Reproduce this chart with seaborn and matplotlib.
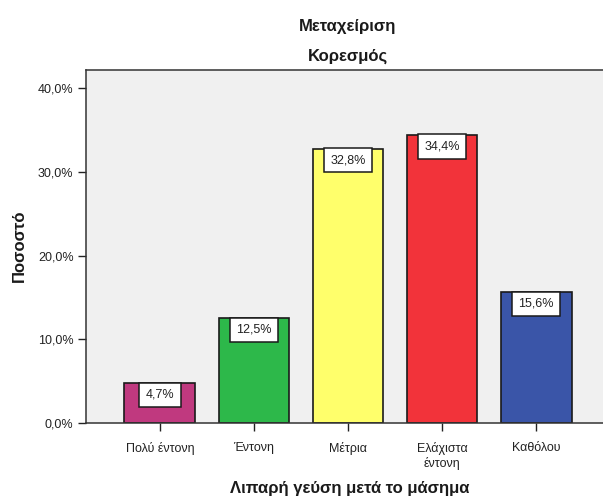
import matplotlib
matplotlib.use("Agg")
import matplotlib.pyplot as plt
import seaborn as sns
import pandas as pd

categories = ["Πολύ έντονη", "Έντονη", "Μέτρια", "Ελάχιστα\nέντονη", "Καθόλου"]
values = [4.7, 12.5, 32.8, 34.4, 15.6]
value_labels = ["4,7%", "12,5%", "32,8%", "34,4%", "15,6%"]
colors = ["#C0397F", "#2DB84A", "#FFFF6B", "#F2333A", "#3A55A8"]
yticks = [0, 10, 20, 30, 40]
ytick_labels = ["0,0%", "10,0%", "20,0%", "30,0%", "40,0%"]

sns.set_theme(style="white")
plt.rcParams["font.family"] = ["Liberation Sans", "DejaVu Sans"]

df = pd.DataFrame({"cat": categories, "val": values})

W, H = 603, 499
y0, y1 = 422.7, 70.0
fig = plt.figure(figsize=(W / 100, H / 100), dpi=100)
ax = fig.add_axes([86 / W, (H - y0) / H, 524 / W, (y0 - y1) / H])
ax.set_facecolor("#F0F0F0")

sns.barplot(data=df, x="cat", y="val", hue="cat", palette=colors, legend=False,
            edgecolor="#1a1a1a", linewidth=1.2, width=0.755, ax=ax, saturation=1)

ax.set_xlim(-0.787, 4.787)
ax.set_ylim(0, 42.2)
ax.set_yticks(yticks)
ax.set_yticklabels(ytick_labels, fontsize=9, color="#222222")
ax.tick_params(axis="x", labelsize=9, colors="#222222", length=6, width=1.0,
               direction="out", bottom=True, pad=8)
ax.tick_params(axis="y", length=6, width=1.0, direction="out", left=True, pad=3,
               colors="#222222")
ax.set_xlabel("")
ax.set_ylabel("")

for s in ["left", "top", "bottom"]:
    ax.spines[s].set_color("#333333")
    ax.spines[s].set_linewidth(1.1)
ax.spines["right"].set_visible(False)

pad = 0.5
fs = 9
for i, (v, lab) in enumerate(zip(values, value_labels)):
    ax.annotate(lab, xy=(i, v), xytext=(0, -pad * fs + 0.5), textcoords="offset points",
                ha="center", va="top", fontsize=fs, color="#222222",
                bbox=dict(boxstyle=f"square,pad={pad}", fc="white", ec="#1a1a1a", lw=1.1))

fig.text(348 / W, 1 - 27 / H, "Μεταχείριση", ha="center", va="center",
         fontsize=12, fontweight="bold", color="#1a1a1a")
fig.text(348 / W, 1 - 56 / H, "Κορεσμός", ha="center", va="center",
         fontsize=12, fontweight="bold", color="#1a1a1a")
fig.text(19 / W, 1 - 246 / H, "Ποσοστό", ha="center", va="center", rotation=90,
         fontsize=12, fontweight="bold", color="#1a1a1a")
fig.text(350 / W, 1 - 489 / H, "Λιπαρή γεύση μετά το μάσημα", ha="center", va="center",
         fontsize=12, fontweight="bold", color="#1a1a1a")

fig.savefig("out.png", dpi=100)
